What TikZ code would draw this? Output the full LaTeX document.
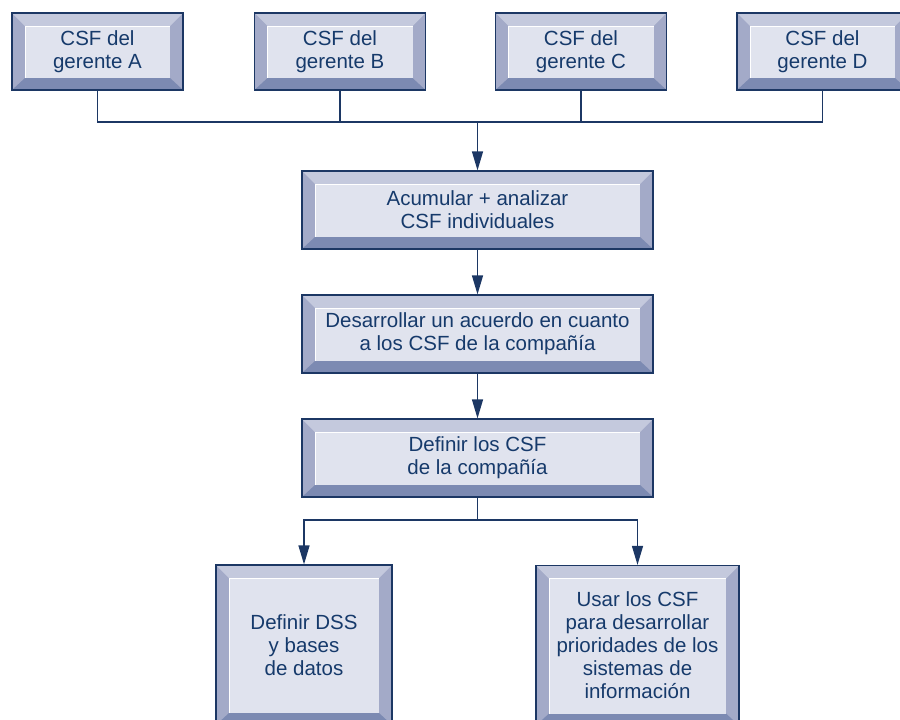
\documentclass[tikz,border=0pt]{standalone}
\usepackage{fontspec}
\setmainfont{Liberation Sans}
\usetikzlibrary{arrows.meta}

\definecolor{csfline}{HTML}{1C3764}
\definecolor{csftext}{HTML}{163A6B}
\definecolor{bevtop}{HTML}{C4C9DD}
\definecolor{bevside}{HTML}{A3AAC8}
\definecolor{bevbot}{HTML}{7C8AB2}
\definecolor{bevface}{HTML}{E0E3EE}

\newcommand{\ppbb}{path picture bounding box}

\tikzset{
  csfbox/.style={draw=csfline, line width=1.2pt, fill=bevside, text=csftext,
    align=center, inner sep=0pt, font=\fontsize{20.5}{23}\selectfont,
    path picture={
      \fill[bevtop] (\ppbb.north west) -- (\ppbb.north east)
        -- ([shift={(-13pt,-13pt)}]\ppbb.north east)
        -- ([shift={(13pt,-13pt)}]\ppbb.north west) -- cycle;
      \fill[bevbot] (\ppbb.south west) -- (\ppbb.south east)
        -- ([shift={(-13pt,12pt)}]\ppbb.south east)
        -- ([shift={(13pt,12pt)}]\ppbb.south west) -- cycle;
      \fill[bevface] ([shift={(13pt,12pt)}]\ppbb.south west)
        rectangle ([shift={(-13pt,-13pt)}]\ppbb.north east);
      \draw[white, line width=0.8pt] ([shift={(13pt,12pt)}]\ppbb.south west)
        |- ([shift={(-13pt,-13pt)}]\ppbb.north east);
    }},
  topbox/.style={csfbox, minimum width=171pt, minimum height=77pt},
  midbox/.style={csfbox, minimum width=351pt, minimum height=78pt},
  link/.style={draw=csfline, line width=1.3pt},
  arr/.style={link, -{Triangle[length=19pt,width=11pt]}}
}

\begin{document}
\begin{tikzpicture}[x=1pt, y=-1pt]
  \useasboundingbox (0,0) rectangle (900,720);

  % managers
  \node[topbox] (gA) at (97.5,51.5) {CSF del\\gerente A};
  \node[topbox] (gB) at (340,51.5) {CSF del\\gerente B};
  \node[topbox] (gC) at (581,51.5) {CSF del\\gerente C};
  \node[topbox] (gD) at (822.5,51.5) {CSF del\\gerente D};

  % main steps
  \node[midbox] (acum) at (477.5,210) {Acumular + analizar\\CSF individuales};
  \node[midbox] (acuerdo) at (477.5,334) {Desarrollar un acuerdo en cuanto\\a los CSF de la compañía};
  \node[midbox] (definir) at (477.5,458) {Definir los CSF\\de la compañía};

  % results
  \node[csfbox, minimum width=176pt, minimum height=160pt] (dss) at (304,645)
    {Definir DSS\\y bases\\de datos};
  \node[csfbox, minimum width=203pt, minimum height=160pt] (usar) at (637.5,645.5)
    {Usar los CSF\\para desarrollar\\prioridades de los\\sistemas de\\información};

  \coordinate (join) at (477.5,122);
  \coordinate (split) at (477.5,520);

  \draw[link] (gA.south) |- (join) -| (gD.south);
  \draw[link] (gB.south) -- (gB.south |- join);
  \draw[link] (gC.south) -- (gC.south |- join);
  \draw[arr] (join) -- (acum.north);
  \draw[arr] (acum) -- (acuerdo);
  \draw[arr] (acuerdo) -- (definir);
  \draw[link] (definir.south) -- (split);
  \draw[arr] (split) -| (dss.north);
  \draw[arr] (split) -| (usar.north);
\end{tikzpicture}
\end{document}
